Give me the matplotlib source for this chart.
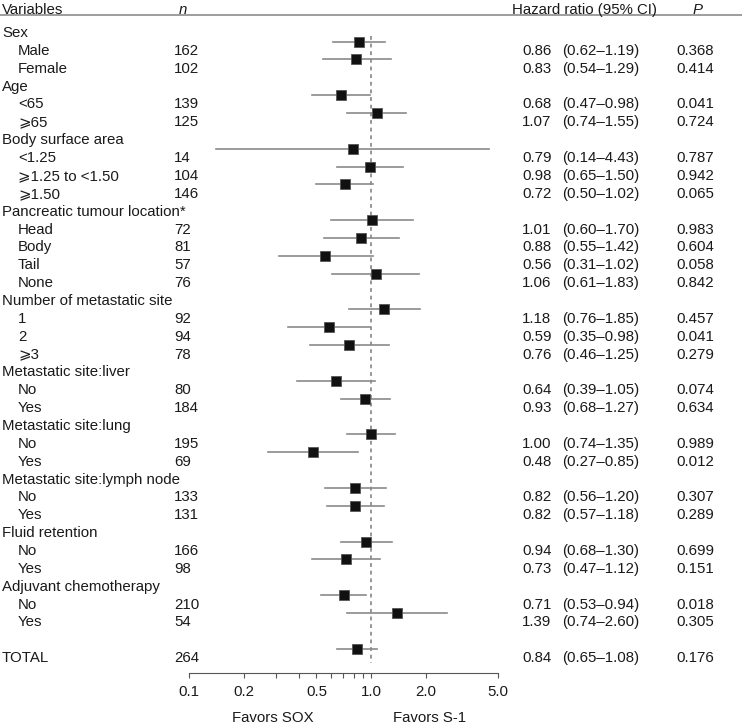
import matplotlib
matplotlib.use("Agg")
import matplotlib.pyplot as plt
import matplotlib.transforms as mtransforms
from matplotlib.ticker import NullLocator

plt.rcParams["font.family"] = ["Liberation Sans", "DejaVu Sans"]

# rows of the forest plot (None = group header / blank row)
labels = [
    "Sex", "Male", "Female",
    "Age", "<65", "\u2a7e65",
    "Body surface area", "<1.25", "\u2a7e1.25 to <1.50", "\u2a7e1.50",
    "Pancreatic tumour location*", "Head", "Body", "Tail", "None",
    "Number of metastatic site", "1", "2", "\u2a7e3",
    "Metastatic site:liver", "No", "Yes",
    "Metastatic site:lung", "No", "Yes",
    "Metastatic site:lymph node", "No", "Yes",
    "Fluid retention", "No", "Yes",
    "Adjuvant chemotherapy", "No", "Yes",
    "", "TOTAL",
]
indented = [
    False, True, True,
    False, True, True,
    False, True, True, True,
    False, True, True, True, True,
    False, True, True, True,
    False, True, True,
    False, True, True,
    False, True, True,
    False, True, True,
    False, True, True,
    False, False,
]
n_pat = [None, 162, 102, None, 139, 125, None, 14, 104, 146,
         None, 72, 81, 57, 76, None, 92, 94, 78, None, 80, 184,
         None, 195, 69, None, 133, 131, None, 166, 98, None, 210, 54,
         None, 264]
hr = [None, 0.86, 0.83, None, 0.68, 1.07, None, 0.79, 0.98, 0.72,
      None, 1.01, 0.88, 0.56, 1.06, None, 1.18, 0.59, 0.76, None, 0.64, 0.93,
      None, 1.00, 0.48, None, 0.82, 0.82, None, 0.94, 0.73, None, 0.71, 1.39,
      None, 0.84]
ci_lo = [None, 0.62, 0.54, None, 0.47, 0.74, None, 0.14, 0.65, 0.50,
         None, 0.60, 0.55, 0.31, 0.61, None, 0.76, 0.35, 0.46, None, 0.39, 0.68,
         None, 0.74, 0.27, None, 0.56, 0.57, None, 0.68, 0.47, None, 0.53, 0.74,
         None, 0.65]
ci_hi = [None, 1.19, 1.29, None, 0.98, 1.55, None, 4.43, 1.50, 1.02,
         None, 1.70, 1.42, 1.02, 1.83, None, 1.85, 0.98, 1.25, None, 1.05, 1.27,
         None, 1.35, 0.85, None, 1.20, 1.18, None, 1.30, 1.12, None, 0.94, 2.60,
         None, 1.08]
p_val = [None, "0.368", "0.414", None, "0.041", "0.724", None, "0.787", "0.942", "0.065",
         None, "0.983", "0.604", "0.058", "0.842", None, "0.457", "0.041", "0.279",
         None, "0.074", "0.634", None, "0.989", "0.012", None, "0.307", "0.289",
         None, "0.699", "0.151", None, "0.018", "0.305", None, "0.176"]

tick_vals = [0.1, 0.2, 0.3, 0.4, 0.5, 0.6, 0.7, 0.8, 0.9, 1.0, 2.0, 5.0]
tick_labels = ["0.1", "0.2", "", "", "0.5", "", "", "", "", "1.0", "2.0", "5.0"]

W, H = 742, 724
fig = plt.figure(figsize=(W / 100, H / 100), dpi=100)
ax = fig.add_axes([189.3 / W, 51 / H, 309 / W, 673 / H])
ax.set_xscale("log")
ax.set_xlim(0.1, 5.0)
ax.set_ylim(35.907, -1.775)

fs = 10.8
txt_col = "#1a1a1a"
tr = mtransforms.blended_transform_factory(fig.transFigure, ax.transData)
tr_ax = mtransforms.blended_transform_factory(ax.transAxes, ax.transData)
base = 0.30      # baseline offset for text rows
mk_off = -0.45   # squares sit a little above the text rows

# header
ax.text(2 / W, -1.31 + base, "Variables", transform=tr, fontsize=fs, color=txt_col)
ax.text(183 / W, -1.31 + base, "n", transform=tr, fontsize=fs, style="italic",
        ha="center", color=txt_col)
ax.text(511.7 / W, -1.31 + base, "Hazard ratio (95% CI)", transform=tr, fontsize=fs,
        color=txt_col)
ax.text(698 / W, -1.31 + base, "P", transform=tr, fontsize=fs, style="italic",
        ha="center", color=txt_col)
ax.plot([0, 1], [-0.935, -0.935], transform=tr, color="#8c8c8c", lw=1.2, clip_on=False)

for i, lab in enumerate(labels):
    x0 = 18 if indented[i] else 2
    ax.text(x0 / W, i + base, lab, transform=tr, fontsize=fs, color=txt_col)
    if n_pat[i] is None:
        continue
    ax.text(174 / W, i + base, str(n_pat[i]), transform=tr, fontsize=fs, color=txt_col)
    ax.text(522 / W, i + base, f"{hr[i]:.2f}", transform=tr, fontsize=fs, color=txt_col)
    ax.text(561.7 / W, i + base, f"({ci_lo[i]:.2f}\u2013{ci_hi[i]:.2f})", transform=tr,
            fontsize=fs, color=txt_col)
    ax.text(676.7 / W, i + base, p_val[i], transform=tr, fontsize=fs, color=txt_col)

    # CI line + square
    ax.plot([ci_lo[i], ci_hi[i]], [i + mk_off, i + mk_off], color="#8a8a8a", lw=1.2,
            zorder=2)
    ax.plot(hr[i], i + mk_off, marker="s", ms=7, color="#111111",
            markeredgecolor="#555555", markeredgewidth=0.6, zorder=3)

# reference line at HR = 1
ax.plot([1.0, 1.0], [0.24, 35.35], color="#7a7a7a", lw=1.1, ls=(0, (2.5, 2.5)), zorder=1)

ax.set_xticks(tick_vals, tick_labels)
ax.xaxis.set_minor_locator(NullLocator())
ax.set_yticks([])
for s in ["left", "right", "top"]:
    ax.spines[s].set_visible(False)
ax.spines["bottom"].set_color("#555555")
ax.spines["bottom"].set_linewidth(0.8)
ax.tick_params(axis="x", direction="out", length=3.8, width=0.8, color="#555555",
               labelsize=fs, labelcolor=txt_col, pad=5)
ax.patch.set_visible(False)

ax.text(0.269, 38.35 + base, "Favors SOX", transform=tr_ax,
        fontsize=fs, ha="center", color=txt_col, clip_on=False)
ax.text(0.776, 38.35 + base, "Favors S-1", transform=tr_ax,
        fontsize=fs, ha="center", color=txt_col, clip_on=False)

fig.savefig("out.png", dpi=100)
